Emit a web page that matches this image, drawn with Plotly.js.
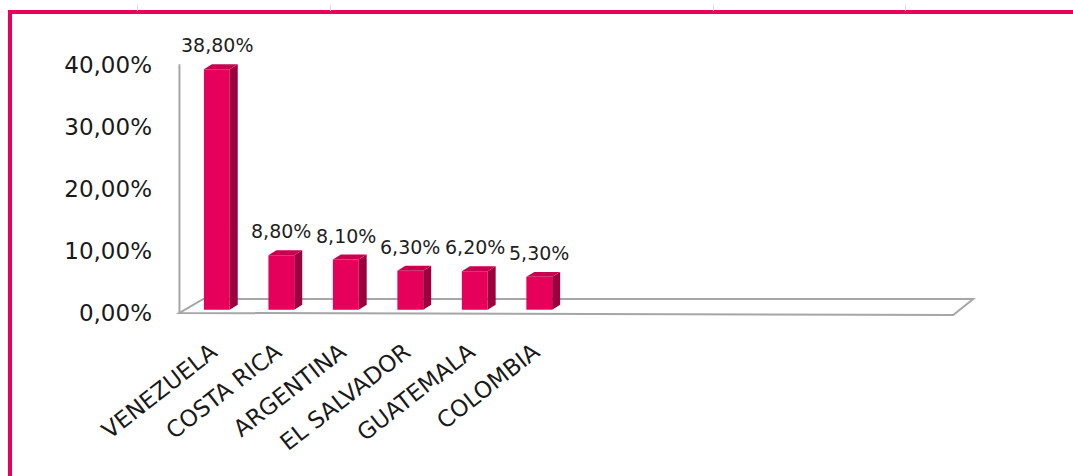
<!DOCTYPE html>
<html>
<head>
<meta charset="utf-8">
<script src="https://cdn.plot.ly/plotly-3.0.1.min.js"></script>
<style>
  html, body { margin: 0; padding: 0; background: #ffffff; }
  #wrap { position: relative; width: 1073px; height: 476px; overflow: hidden; background: #fff; }
  #chart { position: absolute; left: 0; top: 0; width: 1073px; height: 476px; }
  #frame { position: absolute; left: 8px; top: 10px; width: 1070px; height: 470px;
           border-top: 4px solid #E8005A; border-left: 4px solid #E8005A; pointer-events: none; }
  .cell { position: absolute; top: 5px; width: 1px; height: 6px; background: #d3dae6; }
</style>
</head>
<body>
<div id="wrap">
  <div id="chart"></div>
  <div id="frame"></div>
  <div class="cell" style="left:137px"></div>
  <div class="cell" style="left:330px"></div>
  <div class="cell" style="left:713px"></div>
  <div class="cell" style="left:905px"></div>
</div>
<script>
// ---- data ----
const categories = ['VENEZUELA', 'COSTA RICA', 'ARGENTINA', 'EL SALVADOR', 'GUATEMALA', 'COLOMBIA'];
const values = [38.8, 8.8, 8.1, 6.3, 6.2, 5.3];
const yTickVals = [0, 10, 20, 30, 40];
const yTickText = ['0,00%', '10,00%', '20,00%', '30,00%', '40,00%'];
const slotCount = 12;

// ---- style ----
const frontColor = '#E6005C';
const topColor = '#C8004F';
const sideColor = '#9C003F';
const floorColor = '#A6A6A6';
const barWidth = 0.4;
const barOffset = -0.12;
const depthX = 0.124;   // 3D depth, x units
const depthY = 0.8;     // 3D depth, y units

const xs = categories.map((_, i) => i);
const fmt = v => v.toFixed(2).replace('.', ',') + '%';

const shapes = [];
// floor slab
const fL = -0.5, fR = slotCount - 0.5;
shapes.push({
  type: 'path', xref: 'x', yref: 'y', layer: 'below',
  path: `M ${fL},-0.52 L ${fL + 0.37},1.74 L ${fR + 0.31},1.74 L ${fR},-0.84 Z`,
  line: { color: floorColor, width: 2 }, fillcolor: '#ffffff'
});
// back wall edge
shapes.push({
  type: 'line', xref: 'x', yref: 'y', layer: 'below',
  x0: fL, x1: fL, y0: -0.52, y1: 39.6,
  line: { color: floorColor, width: 2 }
});
// 3D faces
xs.forEach((x, i) => {
  const v = values[i];
  const xl = x + barOffset, xr = x + barOffset + barWidth;
  shapes.push({
    type: 'path', xref: 'x', yref: 'y', layer: 'above',
    path: `M ${xr},0 L ${xr + depthX},${depthY} L ${xr + depthX},${v + depthY} L ${xr},${v} Z`,
    fillcolor: sideColor, line: { width: 0 }
  });
  shapes.push({
    type: 'path', xref: 'x', yref: 'y', layer: 'above',
    path: `M ${xl},${v} L ${xl + depthX},${v + depthY} L ${xr + depthX},${v + depthY} L ${xr},${v} Z`,
    fillcolor: topColor, line: { width: 0 }
  });
});

const annotations = xs.map((x, i) => ({
  x: x + barOffset + barWidth / 2, y: values[i], xref: 'x', yref: 'y',
  text: fmt(values[i]), showarrow: false, yanchor: 'middle', yshift: 24,
  font: { family: 'DejaVu Sans', size: 19, color: '#1f1f1f' }
}));

const trace = {
  type: 'bar', x: xs, y: values, width: barWidth, offset: barOffset,
  marker: { color: frontColor, line: { width: 0 } },
  hoverinfo: 'skip'
};

const layout = {
  width: 1073, height: 476,
  margin: { l: 173, r: 94, t: 50, b: 157 },
  paper_bgcolor: 'rgba(0,0,0,0)', plot_bgcolor: 'rgba(0,0,0,0)',
  showlegend: false,
  xaxis: {
    range: [-0.6, 11.9], tickvals: xs, ticktext: categories, tickangle: -38,
    tickfont: { family: 'DejaVu Sans', size: 23, color: '#1a1a1a' },
    showgrid: false, zeroline: false, showline: false, ticks: '',
    ticklabelstandoff: 14
  },
  yaxis: {
    range: [-1.5, 41.9], tickvals: yTickVals, ticktext: yTickText,
    tickfont: { family: 'DejaVu Sans', size: 23, color: '#1a1a1a' },
    showgrid: false, zeroline: false, showline: false, ticks: '',
    ticklabelstandoff: 20, ticklabelshift: 3
  },
  shapes: shapes,
  annotations: annotations
};

Plotly.newPlot('chart', [trace], layout, { displayModeBar: false, staticPlot: true });
</script>
</body>
</html>
